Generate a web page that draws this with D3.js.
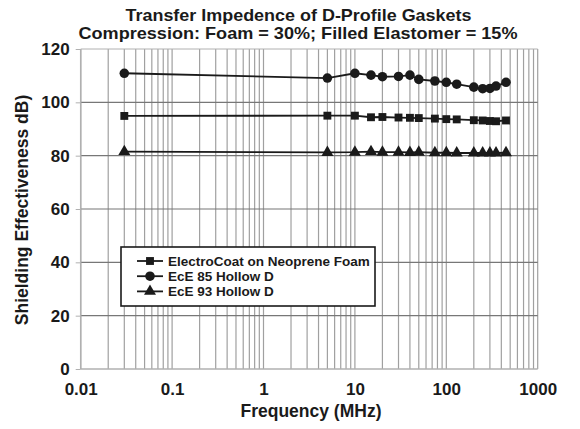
<!DOCTYPE html>
<html>
<head>
<meta charset="utf-8">
<script src="https://cdn.jsdelivr.net/npm/d3@7"></script>
<style>
  body { margin: 0; background: #fff; }
  svg text { font-family: "Liberation Sans", Arial, sans-serif; font-weight: bold; fill: #1a1a1a; }
</style>
</head>
<body>
<script>
var freq = [0.03, 5, 10, 15, 20, 30, 40, 50, 75, 100, 130, 200, 250, 300, 350, 450];
var electroCoat = [94.9, 95.0, 95.0, 94.4, 94.5, 94.3, 94.2, 94.1, 93.9, 93.7, 93.6, 93.3, 93.2, 93.0, 92.9, 93.2];
var ece85 = [110.9, 109.1, 110.9, 110.2, 109.6, 109.7, 110.2, 108.6, 108.0, 107.5, 106.8, 105.7, 105.1, 105.2, 106.1, 107.5];
var ece93 = [81.5, 81.2, 81.3, 81.5, 81.3, 81.3, 81.2, 81.3, 81.1, 81.1, 81.0, 81.0, 81.0, 81.0, 81.0, 81.1];
var seriesNames = ["ElectroCoat on Neoprene Foam", "EcE 85 Hollow D", "EcE 93 Hollow D"];
var xTicks = [0.01, 0.1, 1, 10, 100, 1000];
var yTicks = [0, 20, 40, 60, 80, 100, 120];

var width = 580, height = 429;
var margin = {left: 80.7, right: 42.3, top: 49, bottom: 60};

var svg = d3.select("body").append("svg")
  .attr("width", width)
  .attr("height", height);

var x = d3.scaleLog().domain([0.01, 1000]).range([margin.left, width - margin.right]);
var y = d3.scaleLinear().domain([0, 120]).range([height - margin.bottom, margin.top]);

// vertical grid: every 1..9 within each decade
var minor = [];
for (var e = -2; e < 3; e++)
  for (var m = 1; m < 10; m++) minor.push(m * Math.pow(10, e));
minor.push(1000);

svg.append("g")
  .selectAll("line")
  .data(minor)
  .enter().append("line")
  .attr("x1", d => x(d)).attr("x2", d => x(d))
  .attr("y1", y(0)).attr("y2", y(120))
  .attr("stroke", "#a0a0a0")
  .attr("stroke-width", 1.2);

svg.append("g")
  .selectAll("line")
  .data(yTicks.filter(d => d > 0 && d < 120))
  .enter().append("line")
  .attr("x1", x(0.01)).attr("x2", x(1000))
  .attr("y1", d => y(d)).attr("y2", d => y(d))
  .attr("stroke", "#777")
  .attr("stroke-width", 1.2);

// frame
svg.append("line").attr("x1", x(0.01)).attr("x2", x(1000)).attr("y1", y(120)).attr("y2", y(120)).attr("stroke", "#b0b0b0");
svg.append("line").attr("x1", x(0.01)).attr("x2", x(1000)).attr("y1", y(0)).attr("y2", y(0)).attr("stroke", "#b0b0b0").attr("stroke-width", 1.5);
svg.append("line").attr("x1", x(0.01)).attr("x2", x(0.01)).attr("y1", y(0)).attr("y2", y(120)).attr("stroke", "#b0b0b0").attr("stroke-width", 1.5);

// axes
var yAxis = svg.append("g")
  .attr("transform", `translate(${margin.left},0)`)
  .call(d3.axisLeft(y).tickValues(yTicks).tickSize(5).tickPadding(6));
yAxis.select(".domain").remove();
yAxis.selectAll("line").attr("stroke", "#b0b0b0");
yAxis.selectAll("text").style("font-size", "17px").style("font-family", null);

var xAxis = svg.append("g")
  .attr("transform", `translate(0,${y(0)})`)
  .call(d3.axisBottom(x).tickValues(xTicks).tickFormat(d => String(d)).tickSize(0).tickPadding(14));
xAxis.select(".domain").remove();
xAxis.selectAll("text").style("font-size", "17px").style("font-family", null);

// titles
svg.append("text").attr("x", 298.5).attr("y", 21).attr("text-anchor", "middle")
  .attr("textLength", 346).attr("lengthAdjust", "spacingAndGlyphs")
  .style("font-size", "17px").text("Transfer Impedence of D-Profile Gaskets");
svg.append("text").attr("x", 298).attr("y", 38.5).attr("text-anchor", "middle")
  .attr("textLength", 439).attr("lengthAdjust", "spacingAndGlyphs")
  .style("font-size", "17px").text("Compression: Foam = 30%; Filled Elastomer = 15%");
svg.append("text").attr("x", 311).attr("y", 417).attr("text-anchor", "middle")
  .style("font-size", "17.5px").text("Frequency (MHz)");
svg.append("text").attr("transform", "translate(28,210) rotate(-90)").attr("text-anchor", "middle")
  .style("font-size", "17.5px").text("Shielding Effectiveness dB)");

// series
var symbols = [d3.symbolSquare, d3.symbolCircle, d3.symbolTriangle];
var sizes = [62, 72, 62];
var allSeries = [electroCoat, ece85, ece93];

var line = d3.line().x((d, i) => x(freq[i])).y(d => y(d));

allSeries.forEach(function(vals, k) {
  var g = svg.append("g");
  g.append("path")
    .datum(vals)
    .attr("d", line)
    .attr("fill", "none")
    .attr("stroke", "#1a1a1a")
    .attr("stroke-width", 1.8);
  g.selectAll("path.pt")
    .data(vals)
    .enter().append("path")
    .attr("class", "pt")
    .attr("transform", (d, i) => `translate(${x(freq[i])},${y(d)})`)
    .attr("d", d3.symbol().type(symbols[k]).size(sizes[k]))
    .attr("fill", "#1a1a1a");
});

// legend
var legend = svg.append("g").attr("transform", "translate(121,247)");
legend.append("rect")
  .attr("width", 254).attr("height", 59)
  .attr("fill", "#fff").attr("stroke", "#1a1a1a").attr("stroke-width", 1.6);
seriesNames.forEach(function(name, k) {
  var ly = 14 + k * 15.2;
  legend.append("line").attr("x1", 16).attr("x2", 42).attr("y1", ly).attr("y2", ly)
    .attr("stroke", "#1a1a1a").attr("stroke-width", 1.8);
  legend.append("path")
    .attr("transform", `translate(29,${ly})`)
    .attr("d", d3.symbol().type(symbols[k]).size(sizes[k]))
    .attr("fill", "#1a1a1a");
  legend.append("text").attr("x", 47).attr("y", ly + 5)
    .style("font-size", "13.5px").text(name);
});
</script>
</body>
</html>
